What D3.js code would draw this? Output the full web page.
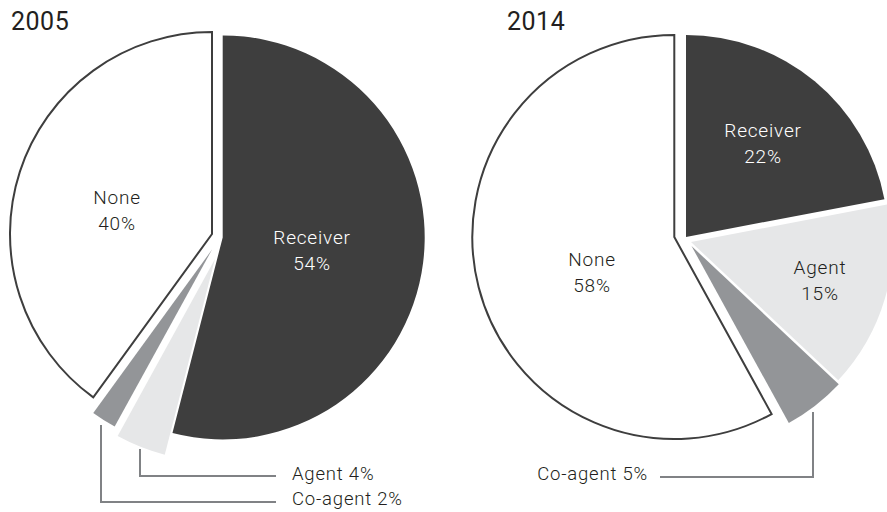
<!DOCTYPE html>
<html>
<head>
<meta charset="utf-8">
<script src="https://cdn.jsdelivr.net/npm/d3@7"></script>
<style>
  html, body { margin: 0; padding: 0; background: #fff; }
  svg { display: block; font-family: Roboto, "Noto Sans", sans-serif; }
</style>
</head>
<body>
<svg id="chart" width="887" height="512"></svg>
<script>
// Share of respondents by role, two survey years
const categories = ["Receiver", "Agent", "Co-agent", "None"];
const years = ["2005", "2014"];
const values2005 = [54, 4, 2, 40];
const values2014 = [22, 15, 5, 58];

// Appearance
const fills = { "Receiver": "#3e3e3e", "Agent": "#e6e7e8", "Co-agent": "#939598", "None": "#ffffff" };
const textFill = { "Receiver": "#ffffff", "Agent": "#231f20", "Co-agent": "#231f20", "None": "#231f20" };
const ink = "#231f20";
const radius = 202;

// Layout of each pie: centre, how far each wedge is pulled out, where its inside label sits
const layout = {
  "2005": {
    cx: 217, cy: 236, titleX: 11,
    pull: { "Receiver": [5.7, 1.4], "Agent": [-2, 23], "Co-agent": [-5, 13.6], "None": [-5, -2] },
    inside: { "Receiver": [95, 14], "None": [-100, -26] },
    callouts: [
      { cat: "Agent", path: [[140, 449], [140, 476], [276, 476]], tx: 292, ty: 480, anchor: "start" },
      { cat: "Co-agent", path: [[101, 425], [101, 502], [276, 502]], tx: 292, ty: 505, anchor: "start" }
    ]
  },
  "2014": {
    cx: 680, cy: 237, titleX: 507,
    pull: { "Receiver": [6, 0], "Agent": [11, 5], "Co-agent": [11.5, 9], "None": [-5.7, 0] },
    inside: { "Receiver": [83, -94], "Agent": [140, 43], "None": [-88, 35] },
    callouts: [
      { cat: "Co-agent", path: [[813, 412], [813, 477], [660, 477]], tx: 648, ty: 480, anchor: "end" }
    ]
  }
};

const seriesByYear = { "2005": values2005, "2014": values2014 };

const svg = d3.select("#chart");

const pie = d3.pie().sort(null).value(d => d.value).startAngle(0).endAngle(2 * Math.PI);
const arc = d3.arc().innerRadius(0).outerRadius(radius);

years.forEach(year => {
  const L = layout[year];
  const rows = categories.map((c, i) => ({ cat: c, value: seriesByYear[year][i] }));
  const slices = pie(rows);

  const g = svg.append("g").attr("transform", `translate(${L.cx},${L.cy})`);

  g.selectAll("path.slice")
    .data(slices)
    .join("path")
    .attr("class", "slice")
    .attr("transform", d => `translate(${L.pull[d.data.cat][0]},${L.pull[d.data.cat][1]})`)
    .attr("d", arc)
    .attr("fill", d => fills[d.data.cat])
    .attr("stroke", d => d.data.cat === "None" ? "#3e3e3e" : "none")
    .attr("stroke-width", 2)
    .attr("stroke-linejoin", "miter");

  // labels drawn inside the larger wedges
  const labelled = slices.filter(d => L.inside[d.data.cat]);
  const lab = g.selectAll("text.inside")
    .data(labelled)
    .join("text")
    .attr("class", "inside")
    .attr("text-anchor", "middle")
    .attr("font-size", 19)
    .attr("font-weight", 300)
    .attr("letter-spacing", 0.8)
    .attr("fill", d => textFill[d.data.cat])
    .attr("transform", d => `translate(${L.inside[d.data.cat][0]},${L.inside[d.data.cat][1]})`);
  lab.append("tspan").attr("x", 0).attr("y", -6).text(d => d.data.cat);
  lab.append("tspan").attr("x", 0).attr("y", 20).text(d => d.data.value + "%");

  // leader lines for the thin wedges
  const line = d3.line();
  L.callouts.forEach(co => {
    const v = rows.find(r => r.cat === co.cat).value;
    svg.append("path")
      .attr("d", line(co.path))
      .attr("fill", "none")
      .attr("stroke", "#808285")
      .attr("stroke-width", 2);
    svg.append("text")
      .attr("x", co.tx)
      .attr("y", co.ty)
      .attr("text-anchor", co.anchor)
      .attr("font-size", 18.5)
      .attr("font-weight", 300)
      .attr("letter-spacing", 0.8)
      .attr("fill", ink)
      .text(`${co.cat} ${v}%`);
  });

  svg.append("text")
    .attr("x", L.titleX)
    .attr("y", 30)
    .attr("font-size", 25)
    .attr("letter-spacing", 0.5)
    .attr("fill", ink)
    .text(year);
});
</script>
</body>
</html>
